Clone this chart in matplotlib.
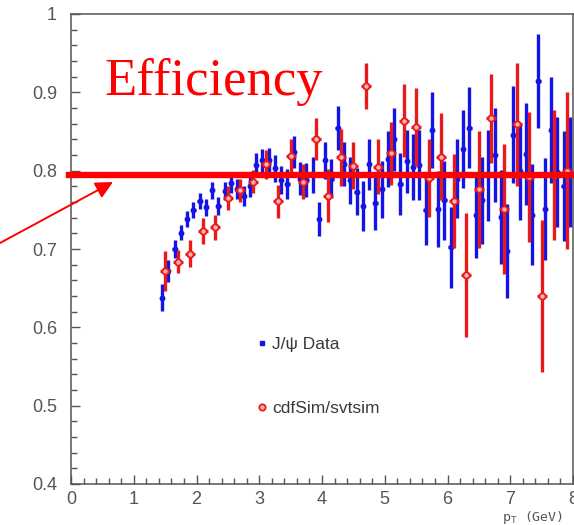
import numpy as np
import matplotlib.pyplot as plt
from matplotlib.lines import Line2D
from matplotlib.ticker import MultipleLocator, FuncFormatter

# J/psi data, 0.1 GeV bins
data_pt = [1.45, 1.55, 1.65, 1.75, 1.85, 1.95, 2.05, 2.15, 2.25, 2.35,
           2.45, 2.55, 2.65, 2.75, 2.85, 2.95, 3.05, 3.15, 3.25, 3.35,
           3.45, 3.55, 3.65, 3.75, 3.85, 3.95, 4.05, 4.15, 4.25, 4.35,
           4.45, 4.55, 4.65, 4.75, 4.85, 4.95, 5.05, 5.15, 5.25, 5.35,
           5.45, 5.55, 5.65, 5.75, 5.85, 5.95, 6.05, 6.15, 6.25, 6.35,
           6.45, 6.55, 6.65, 6.75, 6.85, 6.95, 7.05, 7.15, 7.25, 7.35,
           7.45, 7.55, 7.65, 7.75, 7.85, 7.95]
data_eff = [0.638, 0.672, 0.700, 0.721, 0.738, 0.750, 0.761, 0.753, 0.775, 0.755,
            0.774, 0.784, 0.777, 0.768, 0.780, 0.807, 0.813, 0.813, 0.803, 0.788,
            0.783, 0.824, 0.790, 0.788, 0.795, 0.738, 0.813, 0.790, 0.855, 0.809,
            0.788, 0.773, 0.755, 0.808, 0.759, 0.776, 0.815, 0.840, 0.783, 0.812,
            0.805, 0.807, 0.750, 0.852, 0.751, 0.762, 0.702, 0.790, 0.828, 0.855,
            0.743, 0.762, 0.794, 0.820, 0.741, 0.698, 0.846, 0.799, 0.821, 0.744,
            0.915, 0.751, 0.852, 0.798, 0.780, 0.798]
data_err = [0.017, 0.014, 0.012, 0.010, 0.010, 0.010, 0.010, 0.011, 0.011, 0.012,
            0.012, 0.012, 0.013, 0.013, 0.014, 0.015, 0.015, 0.016, 0.017, 0.018,
            0.019, 0.020, 0.021, 0.022, 0.023, 0.022, 0.024, 0.025, 0.028, 0.028,
            0.030, 0.030, 0.032, 0.033, 0.035, 0.036, 0.036, 0.040, 0.040, 0.040,
            0.042, 0.045, 0.045, 0.048, 0.048, 0.050, 0.052, 0.050, 0.050, 0.052,
            0.055, 0.055, 0.058, 0.060, 0.060, 0.060, 0.062, 0.062, 0.065, 0.065,
            0.060, 0.065, 0.068, 0.070, 0.070, 0.070]

# cdfSim/svtsim, 0.2 GeV bins
sim_pt = [1.5, 1.7, 1.9, 2.1, 2.3, 2.5, 2.7, 2.9, 3.1, 3.3, 3.5,
          3.7, 3.9, 4.1, 4.3, 4.5, 4.7, 4.9, 5.1, 5.3, 5.5, 5.7,
          5.9, 6.1, 6.3, 6.5, 6.7, 6.9, 7.1, 7.3, 7.5, 7.7, 7.9]
sim_eff = [0.672, 0.684, 0.694, 0.723, 0.728, 0.765, 0.775, 0.786, 0.808, 0.761, 0.819,
           0.786, 0.840, 0.768, 0.817, 0.806, 0.908, 0.805, 0.822, 0.864, 0.856, 0.791,
           0.818, 0.761, 0.667, 0.776, 0.867, 0.751, 0.859, 0.792, 0.640, 0.794, 0.800]
sim_err = [0.025, 0.015, 0.017, 0.016, 0.016, 0.015, 0.015, 0.015, 0.018, 0.021, 0.022,
           0.022, 0.027, 0.034, 0.036, 0.030, 0.029, 0.035, 0.040, 0.047, 0.050, 0.050,
           0.055, 0.060, 0.079, 0.075, 0.057, 0.083, 0.078, 0.083, 0.097, 0.083, 0.100]

plateau = 0.795
yticks = [0.4, 0.5, 0.6, 0.7, 0.8, 0.9, 1.0]
xticks = [0, 1, 2, 3, 4, 5, 6, 7, 8]

BLUE = "#1414e6"
RED = "#e81a1a"
GREY = "#555555"

fig = plt.figure(figsize=(5.74, 5.25), dpi=100)
ax = fig.add_axes([71 / 574, 41 / 525, 502 / 574, 470 / 525])

ax.errorbar(data_pt, data_eff, yerr=data_err, xerr=0.035, fmt="o", ms=3.2,
            color=BLUE, ecolor=BLUE, elinewidth=2.4, capsize=0, zorder=3)
ax.errorbar(sim_pt, sim_eff, yerr=sim_err, xerr=0.08, fmt="o", ms=4.5,
            mfc="#ffb0b0", mec=RED, mew=1.3, color=RED, ecolor=RED,
            elinewidth=2.4, capsize=0, zorder=4)

ax.axhline(plateau, color="red", lw=4.6, zorder=6, xmin=-0.003, clip_on=False)

ax.set_xlim(0, 8)
ax.set_ylim(0.4, 1.0)
ax.set_xticks(xticks)
ax.set_yticks(yticks)
ax.xaxis.set_minor_locator(MultipleLocator(0.2))
ax.yaxis.set_minor_locator(MultipleLocator(0.02))
ax.yaxis.set_major_formatter(FuncFormatter(lambda v, p: "%g" % round(v, 2)))
ax.tick_params(which="both", direction="in", color=GREY, width=1.0,
               labelcolor=GREY, labelsize=13)
ax.tick_params(which="major", length=6.5)
ax.tick_params(which="minor", length=4)
ax.tick_params(axis="y", pad=10)
ax.tick_params(axis="x", pad=5)
for lab in ax.get_xticklabels() + ax.get_yticklabels():
    lab.set_fontfamily("Liberation Sans")
for sp in ax.spines.values():
    sp.set_color(GREY)
    sp.set_linewidth(1.1)

# axis title sits in the lower right corner, partly off the edge
fig.text(502 / 574, 1 - 518 / 525, r"p$_\mathregular{T}$ (GeV)", fontsize=9.5,
         color=GREY, family="DejaVu Sans Mono", va="center", ha="left")

fig.text(104 / 574, 1 - 95 / 525, "Efficiency", color="red",
         family="Liberation Serif", fontsize=38, va="baseline", ha="left")

ax.annotate("", xy=(113, 525 - 182), xycoords="figure pixels",
            xytext=(0, 525 - 243), textcoords="figure pixels",
            arrowprops=dict(arrowstyle="-|>", color="red", lw=1.4,
                            mutation_scale=26, shrinkA=0, shrinkB=0),
            annotation_clip=False)

handles = [Line2D([], [], ls="none", marker="s", ms=3.5, color=BLUE),
           Line2D([], [], ls="none", marker="o", ms=4.5, mfc="#ffb0b0",
                  mec=RED, mew=1.3)]
leg = ax.legend(handles, ["J/\u03c8 Data", "cdfSim/svtsim"], loc="upper left",
                bbox_to_anchor=(258 / 574, 1 - 337 / 525),
                bbox_transform=fig.transFigure, frameon=False,
                handlelength=0.5, handletextpad=0.3, labelspacing=2.8,
                prop={"family": "Liberation Sans", "size": 12.5},
                borderaxespad=0, borderpad=0)
for t in leg.get_texts():
    t.set_color("#3a3a3a")

fig.savefig("out.png", dpi=100, facecolor="white")
